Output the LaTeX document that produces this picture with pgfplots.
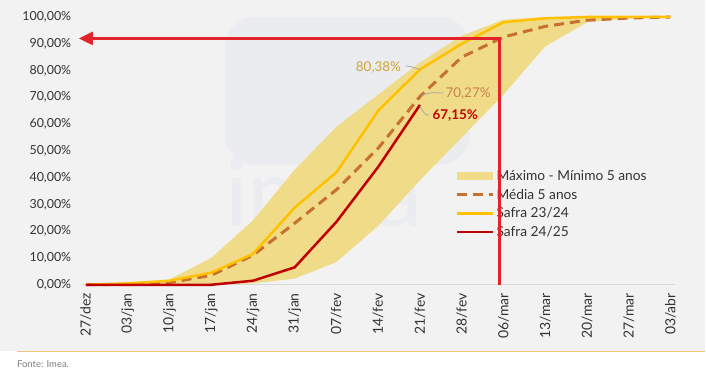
\documentclass[border=0pt]{standalone}
\usepackage{fontspec}
\setmainfont{Lato}
\usepackage{pgfplots}
\pgfplotsset{compat=1.18}
\usetikzlibrary{arrows.meta}
\definecolor{bg}{HTML}{F2F2F2}
\definecolor{wm}{HTML}{EBECEF}
\definecolor{band}{HTML}{F0DC88}
\definecolor{yel}{HTML}{FFC000}
\definecolor{media}{HTML}{C8702E}
\definecolor{safra}{HTML}{C00000}
\definecolor{arrowred}{HTML}{E3232A}
\definecolor{axgray}{HTML}{D9D9D9}
\definecolor{txt}{HTML}{333333}
\definecolor{gold}{HTML}{CFA535}
\definecolor{lbl}{HTML}{C8834A}
\definecolor{leader}{HTML}{A6A6A6}
\definecolor{orline}{HTML}{F0C878}
\definecolor{fonte}{HTML}{7F7F7F}
\begin{document}
\begin{tikzpicture}
\fill[bg] (-81.8bp,-66bp) rectangle (624.2bp,285bp);
\fill[white] (-81.8bp,-86bp) rectangle (624.2bp,-66bp);
\draw[orline, line width=1.2bp] (-64.8bp,-67bp) -- (624.2bp,-67bp);
\node[anchor=west, inner sep=0, font=\fontsize{9.5}{11}\selectfont, text=fonte] at (-64.8bp,-79bp) {Fonte: Imea.};
\fill[wm, rounded corners=30bp] (143.2bp,120bp) rectangle (388.2bp,268bp);
\node[anchor=base west, inner sep=0, font=\fontsize{95}{95}\selectfont, text=wm] at (143.2bp,58bp) {imea};
\begin{axis}[
  at={(0,0)}, anchor=south west,
  scale only axis, width=593.4bp, height=268bp,
  xmin=-0.1, xmax=14.1, ymin=0, ymax=100,
  clip=false,
  axis x line=bottom, axis y line=left,
  x axis line style={-, draw=axgray, line width=1bp},
  y axis line style={draw=none},
  major tick length=0,
  /pgf/number format/assume math mode=true,
  xtick={0,...,14},
  xticklabels={27/dez,03/jan,10/jan,17/jan,24/jan,31/jan,07/fev,14/fev,21/fev,28/fev,06/mar,13/mar,20/mar,27/mar,03/abr},
  xticklabel style={rotate=90, anchor=east, font=\fontsize{14}{16}\selectfont, text=txt},
  xticklabel shift=5bp,
  ytick={0,10,...,100},
  yticklabels={{0,00\%},{10,00\%},{20,00\%},{30,00\%},{40,00\%},{50,00\%},{60,00\%},{70,00\%},{80,00\%},{90,00\%},{100,00\%}},
  yticklabel style={font=\fontsize{12.5}{14}\selectfont, text=txt, xshift=-7bp},
  legend image code/.code={\draw[#1] (0bp,0bp) -- (36bp,0bp);},
  legend style={draw=none, fill=none, at={(axis cs:8.85,43.5)}, anchor=north west,
    font=\fontsize{13.8}{16}\selectfont, text=txt, row sep=3bp, inner sep=0pt},
  legend cell align=left,
]
% band: maximum (forward) then minimum (backward)
\addplot[fill=band, draw=none, legend image code/.code={\fill[band] (0bp,-4bp) rectangle (36bp,4bp);}] coordinates {
(0,0) (1,0.5) (2,2) (3,10) (4,24) (5,43) (6,59) (7,71) (8,83) (9,93) (10,99) (11,100) (12,100) (13,100) (14,100)
(14,100) (13,99.5) (12,98) (11,89) (10,71) (9,55) (8,39) (7,22) (6,8.5) (5,2.3) (4,0.5) (3,0) (2,0) (1,0) (0,0)} -- cycle;
\addplot[media, line width=3bp, dash pattern=on 10bp off 6bp] coordinates {
(0,0) (1,0.2) (2,0.8) (3,3.5) (4,11) (5,23) (6,35.5) (7,51) (8,70.27) (9,85) (10,92.5) (11,96.5) (12,98.8) (13,99.6) (14,100)};
\addplot[yel, line width=2.5bp] coordinates {
(0,0) (1,0.5) (2,1.5) (3,4.5) (4,11.5) (5,28.8) (6,42) (7,65) (8,80.38) (9,90) (10,98) (11,99.5) (12,100) (13,100) (14,100)};
\addplot[safra, line width=2.5bp] coordinates {
(0,0) (1,0) (2,0) (3,0) (4,1.5) (5,6.5) (6,23.5) (7,44) (8,67.15)};
\legend{Máximo - Mínimo 5 anos, Média 5 anos, Safra 23/24, Safra 24/25}
\node[anchor=east, inner sep=0, text=gold, font=\fontsize{13.5}{15}\selectfont] at (axis cs:7.55,81.2) {80,38\%};
\draw[leader, line width=0.8bp] (axis cs:7.66,81.7) to[out=0,in=165] (axis cs:8,80.38);
\node[anchor=west, inner sep=0, text=lbl, font=\fontsize{13.5}{15}\selectfont] at (axis cs:8.61,71.3) {70,27\%};
\draw[leader, line width=0.8bp] (axis cs:8.04,70.6) to[out=30,in=180] (axis cs:8.56,71.6);
\node[anchor=west, inner sep=0, text=safra, font=\bfseries\fontsize{13.5}{15}\selectfont] at (axis cs:8.3,63.1) {67,15\%};
\draw[leader, line width=0.8bp] (axis cs:8.0,66.8) to[out=-60,in=180] (axis cs:8.22,63.3);
\coordinate (A) at (axis cs:9.9,0);
\coordinate (B) at (axis cs:9.9,92);
\coordinate (C) at (axis cs:-0.17,92);
\end{axis}
\draw[arrowred, line width=2.5bp, -{Triangle[length=14bp,width=13bp]}] (A) -- (B) -- (C);
\end{tikzpicture}
\end{document}
